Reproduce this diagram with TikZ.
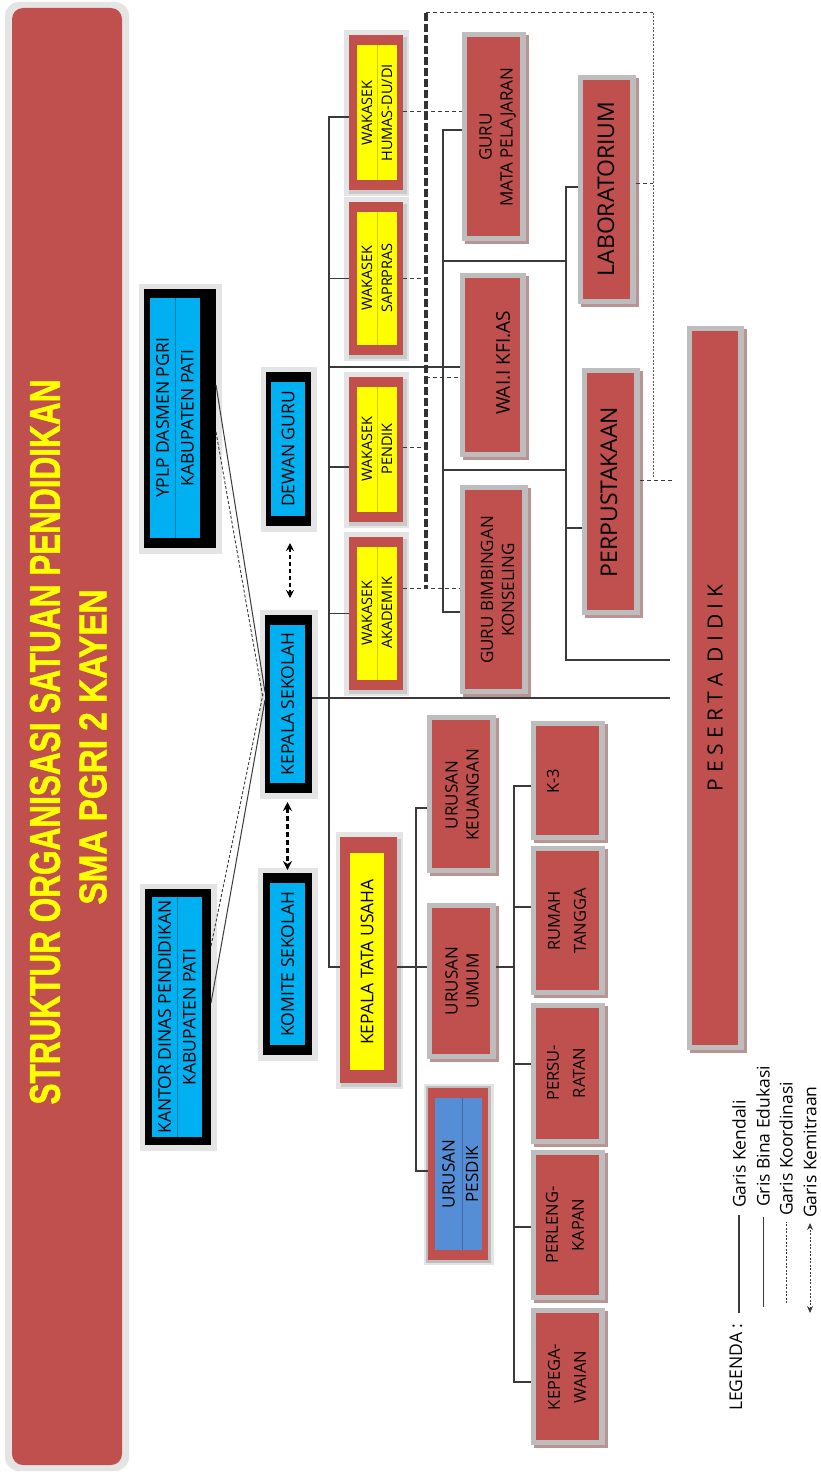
\documentclass[tikz,border=0pt]{standalone}
\usepackage{fontspec}
\setmainfont{Open Sans}
\newfontfamily\titlefont{Liberation Sans}[BoldFeatures={FakeBold=1.5}]
\usetikzlibrary{fit,calc,arrows.meta}
\definecolor{boxred}{HTML}{C0504D}
\definecolor{cy}{HTML}{00B0F0}
\definecolor{yl}{HTML}{FFFF00}
\definecolor{bl}{HTML}{558ED5}
\definecolor{fr}{HTML}{BDBDBD}
\definecolor{halo}{HTML}{E4E4E4}
\definecolor{ln}{HTML}{3A3A3A}
\definecolor{rsh}{HTML}{B89494}
\tikzset{
  cline/.style={draw=ln, line width=1.2pt},
  cdash/.style={draw=ln, line width=1pt, dash pattern=on 4pt off 3pt},
  tdash/.style={draw=black!80, line width=3.2pt, dash pattern=on 8pt off 3pt},
  cdot/.style={draw=ln!85, line width=1pt, dash pattern=on 2pt off 1.5pt},
  kem/.style={draw=black, line width=1.4pt, dash pattern=on 4pt off 3pt, {Stealth[length=8pt,width=8pt]}-{Stealth[length=8pt,width=8pt]}},
  kemb/.style={draw=black, line width=2.2pt, dash pattern=on 5pt off 3pt, {Stealth[length=9pt,width=9pt]}-{Stealth[length=9pt,width=9pt]}},
  bt/.style={rotate=90, align=center, inner sep=0pt, font=\fontsize{17}{21}\selectfont},
  btb/.style={rotate=90, align=center, inner sep=0pt, font=\fontsize{16.5}{26}\selectfont},
  btl/.style={rotate=90, inner sep=0pt, font=\fontsize{23}{26}\selectfont},
  kt/.style={rotate=90, inner sep=0pt, font=\fontsize{17.5}{21}\selectfont},
  wt/.style={rotate=90, inner sep=0pt, font=\fontsize{14.5}{18}\selectfont},
  lg/.style={inner sep=0pt, font=\fontsize{17.5}{21}\selectfont},
  cdiv/.style={draw=cy!70!black, line width=0.8pt},
  ydiv/.style={draw=yl!80!black, line width=0.6pt},
}
\newcommand{\graybox}[5]{%
  \fill[rsh] (#2+3,#3+3) rectangle (#4+3,#5+3);
  \node[fit={(#2,#3)(#4,#5)}, inner sep=0pt, outer sep=0pt, fill=fr] (#1) {};
  \fill[boxred] (#2+5,#3+5) rectangle (#4-6,#5-5);}
\newcommand{\blkbox}[9]{%
  \fill[halo] (#2-5,#3-5) rectangle (#4+6,#5+6);
  \node[fit={(#2,#3)(#4,#5)}, inner sep=0pt, outer sep=0pt, fill=black] (#1) {};
  \fill[cy] (#6,#7) rectangle (#8,#9);}
\newcommand{\wkbox}[3]{%
  \fill[halo] (344,#2-5) rectangle (409,#3+6);
  \fill[fr!80] (349,#2+2) rectangle (407,#3+4);
  \node[fit={(349,#2)(403,#3)}, inner sep=0pt, outer sep=0pt, fill=boxred] (#1) {};
  \fill[yl] (357,#2+10) rectangle (397,#3-10);
  \draw[ydiv] (377,#2+10) -- (377,#3-10);}
\begin{document}
\begin{tikzpicture}[x=1pt,y=-1pt]
\useasboundingbox (0,0) rectangle (821,1472);
\fill[white] (0,0) rectangle (821,1472);

% title panel
\fill[halo, rounded corners=14pt] (5,2) rectangle (129,1471);
\fill[boxred, rounded corners=11pt] (12,8) rectangle (122,1465);
\node[rotate=90, inner sep=0pt, text=yl, font=\titlefont\bfseries] (t1) at (45,742) {\resizebox{725pt}{30pt}{STRUKTUR ORGANISASI SATUAN PENDIDIKAN}};
\node[rotate=90, inner sep=0pt, text=yl, font=\titlefont\bfseries] (t2) at (93,747) {\resizebox{315pt}{27pt}{SMA PGRI 2 KAYEN}};

% black boxes
\blkbox{yplp}{144}{289}{216}{548}{150}{298}{200}{538}
\draw[cdiv] (175,298) -- (175,538);
\node[kt] (yplp1) at (162.5,418) {YPLP DASMEN PGRI};
\node[kt] (yplp2) at (187.5,418) {KABUPATEN PATI};
\blkbox{kantor}{145}{889}{211}{1145}{152}{897}{202}{1137}
\draw[cdiv] (177,897) -- (177,1137);
\node[kt] (kan1) at (164.5,1017) {KANTOR DINAS PENDIDIKAN};
\node[kt] (kan2) at (189.5,1017) {KABUPATEN PATI};
\blkbox{dewan}{266}{372}{311}{526}{271}{382}{305}{516}
\node[kt] (dewt) at (288,449) {DEWAN GURU};
\blkbox{kep}{265}{615}{312}{793}{270}{625}{305}{783}
\node[kt] (kept) at (287.5,704) {KEPALA SEKOLAH};
\blkbox{kom}{263}{873}{312}{1055}{270}{883}{305}{1045}
\node[kt] (komt) at (287.5,964) {KOMITE SEKOLAH};

% wakasek boxes
\wkbox{hum}{35}{190}
\node[wt] at (367,113) {WAKASEK}; \node[wt] at (387,113) {HUMAS-DU/DI};
\wkbox{sap}{202}{355}
\node[wt] at (367,278) {WAKASEK}; \node[wt] at (387,278) {SAPRPRAS};
\wkbox{pen}{377}{522}
\node[wt] at (367,449) {WAKASEK}; \node[wt] at (387,449) {PENDIK};
\wkbox{aka}{537}{690}
\node[wt] at (367,613) {WAKASEK}; \node[wt] at (387,613) {AKADEMIK};

% kepala tata usaha
\fill[halo] (336,832) rectangle (403,1089);
\fill[fr!80] (341,839) rectangle (401,1087);
\node[fit={(340,837)(397,1083)}, inner sep=0pt, outer sep=0pt, fill=boxred] (ktu) {};
\fill[yl] (350,853) rectangle (384,1070);
\node[kt] at (367,962) {KEPALA TATA USAHA};

% urusan pesdik
\fill[halo] (424,1084) rectangle (494,1265);
\fill[fr] (426,1086) rectangle (491,1263);
\node[fit={(428,1088)(488,1260)}, inner sep=0pt, outer sep=0pt, fill=boxred] (psd) {};
\fill[bl] (435,1098) rectangle (482,1250);
\draw[draw=bl!75!black, line width=0.6pt] (462,1098) -- (462,1250);
\node[kt, font=\fontsize{17}{21}\selectfont] at (448.5,1174) {URUSAN};
\node[kt, font=\fontsize{17}{21}\selectfont] at (472,1174) {PESDIK};

% red boxes with grey frame
\graybox{gmp}{462}{32}{526}{241}
\graybox{wali}{460}{273}{526}{457}
\graybox{gbk}{460}{485}{528}{694}
\graybox{lab}{578}{75}{636}{304}
\graybox{perp}{582}{368}{640}{615}
\graybox{keu}{427}{715}{496}{873}
\graybox{umum}{427}{903}{496}{1059}
\graybox{k3}{531}{721}{605}{840}
\graybox{rt}{531}{846}{605}{995}
\graybox{prs}{531}{1003}{605}{1144}
\graybox{prl}{531}{1150}{605}{1300}
\graybox{kpg}{531}{1308}{605}{1445}
\graybox{pd}{687}{326}{744}{1050}

\node[bt] at (497.5,137) {GURU\\MATA PELAJARAN};
\node[bt, font=\fontsize{19}{21}\selectfont] at (503,363) {WAI.I KFI.AS};
\node[bt] at (497.5,590) {GURU BIMBINGAN\\KONSELING};
\node[btl] at (606,189) {LABORATORIUM};
\node[btl] at (609,492) {PERPUSTAKAAN};
\node[bt] at (462,795) {URUSAN\\KEUANGAN};
\node[bt] at (462,981) {URUSAN\\UMUM};
\node[btb] at (553,781) {K-3};
\node[btb] at (567,921) {RUMAH\\TANGGA};
\node[btb] at (566,1073) {PERSU-\\RATAN};
\node[btb] at (565,1225) {PERLENG-\\KAPAN};
\node[btb] at (567,1377) {KEPEGA-\\WAIAN};
\node[rotate=90, inner sep=0pt, font=\fontsize{21}{24}\selectfont] at (715,688) {P E S E R T A \ D I D I K};

% trunk coordinates
\coordinate (tA) at (329,0);
\coordinate (tB) at (443,0);
\coordinate (tC) at (566,0);
\coordinate (tD) at (416,0);
\coordinate (tE) at (514,0);
\coordinate (tK) at (426,0);
\coordinate (tR) at (653,0);
\coordinate (pdL) at (670,0);

% garis kendali / bina edukasi
\draw[cline] ($(hum.west)+(0,4.5)$) -- ($(hum.west -| tA)+(0,4.5)$) -- ($(ktu.west -| tA)+(0,7)$) -- ($(ktu.west)+(0,7)$);
\draw[cline] (sap.west) -- (sap.west -| tA);
\draw[cline] ($(pen.west)+(0,17.5)$) -- ($(pen.west -| tA)+(0,17.5)$);
\draw[cline] (aka.west) -- (aka.west -| tA);
\draw[cline] ($(wali.west -| tA)+(0,2)$) -- ($(wali.west)+(0,2)$);
\draw[cline] ($(kep.east)+(0,-6)$) -- ($(kep.east -| pdL)+(0,-6)$);
\draw[cline] ($(gmp.west)+(0,-6.5)$) -- ($(gmp.west -| tB)+(0,-6.5)$) -- ($(gbk.west -| tB)+(0,22.5)$) -- ($(gbk.west)+(0,22.5)$);
\draw[cline] ($(tB)+(0,261)$) -- ($(tC)+(0,261)$);
\draw[cline] ($(tB)+(0,470)$) -- ($(tC)+(0,470)$);
\draw[cline] ($(lab.west)+(0,-2.5)$) -- ($(lab.west -| tC)+(0,-2.5)$) -- ($(tC)+(0,660)$) -- ($(pdL)+(0,660)$);
\draw[cline] ($(perp.west)+(0,36.5)$) -- ($(perp.west -| tC)+(0,36.5)$);
\draw[cline] ($(ktu.east)+(0,7)$) -- ($(umum.west)+(0,-14)$);
\draw[cline] ($(keu.west)+(0,14)$) -- ($(keu.west -| tD)+(0,14)$) -- ($(psd.west -| tD)+(0,-3)$) -- ($(psd.west)+(0,-3)$);
\draw[cline] ($(umum.east)+(0,-14)$) -- ($(umum.east -| tE)+(0,-14)$);
\draw[cline] ($(k3.west)+(0,5.5)$) -- ($(k3.west -| tE)+(0,5.5)$) -- ($(kpg.west -| tE)+(0,5.5)$) -- ($(kpg.west)+(0,5.5)$);
\draw[cline] ($(rt.west)+(0,-13.5)$) -- ($(rt.west -| tE)+(0,-13.5)$);
\draw[cline] ($(prs.west)+(0,-9.5)$) -- ($(prs.west -| tE)+(0,-9.5)$);
\draw[cline] ($(prl.west)+(0,2)$) -- ($(prl.west -| tE)+(0,2)$);

% lines from YPLP and Kantor Dinas
\draw[cline, line width=1pt] ($(yplp.north east)+(0,96)$) -- ($(kep.west)+(0,-12)$);
\draw[cdash, line width=0.9pt, dash pattern=on 3pt off 2pt] ($(yplp.north east)+(0,143)$) -- ($(kep.west)+(-2,-6)$);
\draw[cdash, line width=0.9pt, dash pattern=on 3pt off 2pt] ($(kantor.north east)+(0,57)$) -- ($(kep.west)+(-2,-10)$);
\draw[cline, line width=1pt] ($(kantor.north east)+(0,114)$) -- ($(kep.west)+(0,-4)$);

% garis koordinasi
\draw[tdash] ($(tK)+(0,13)$) -- ($(aka.east -| tK)+(0,-25.5)$);
\draw[cdash] ($(tK)+(0,13)$) -- ($(tR)+(0,13)$);
\draw[cdot] ($(tR)+(0,13)$) -- ($(tR)+(0,478)$);
\draw[cdash] ($(hum.east)+(0,-1.5)$) -- ($(gmp.west)+(0,-25.5)$);
\draw[cdash] (sap.east) -- (sap.east -| tK);
\draw[cdash] ($(pen.east)+(0,-2.5)$) -- ($(pen.east -| tK)+(0,-2.5)$);
\draw[cdash] ($(aka.east)+(0,-25.5)$) -- ($(gbk.west)+(0,-1.5)$);
\draw[cdash] ($(wali.west -| tK)+(0,12)$) -- ($(wali.west)+(0,12)$);
\draw[cdash] ($(lab.east)+(0,-6.5)$) -- ($(lab.east -| tR)+(0,-6.5)$);
\draw[cdash] ($(perp.east)+(0,-11.5)$) -- ($(perp.east)+(32,-11.5)$);

% garis kemitraan
\draw[kem] ($(dewan.south)+(1.5,17)$) -- ($(kep.north)+(1.5,-17)$);
\draw[kemb] ($(kep.south)+(-1,9)$) -- ($(kom.north)+(0,-3)$);

% legend
\node[lg, anchor=south] (lgd) at (736,1411) {\rotatebox{90}{LEGENDA :}};
\draw[ln, line width=2pt] (739,1313) -- (739,1215);
\draw[ln, line width=1pt] (763,1307) -- (763,1217);
\draw[ln, line width=0.8pt, dash pattern=on 2pt off 1.5pt] (786,1303) -- (786,1222);
\draw[ln, line width=0.8pt, dash pattern=on 2pt off 1.5pt, {Stealth[length=7pt,width=6pt]}-{Stealth[length=7pt,width=6pt]}] (810,1313) -- (810,1223);
\node[lg, anchor=south] at (739,1208) {\rotatebox{90}{Garis Kendali}};
\node[lg, anchor=south] at (763,1207) {\rotatebox{90}{Gris Bina Edukasi}};
\node[lg, anchor=south] at (786,1216) {\rotatebox{90}{Garis Koordinasi}};
\node[lg, anchor=south] at (810,1218) {\rotatebox{90}{Garis Kemitraan}};
\end{tikzpicture}
\end{document}
